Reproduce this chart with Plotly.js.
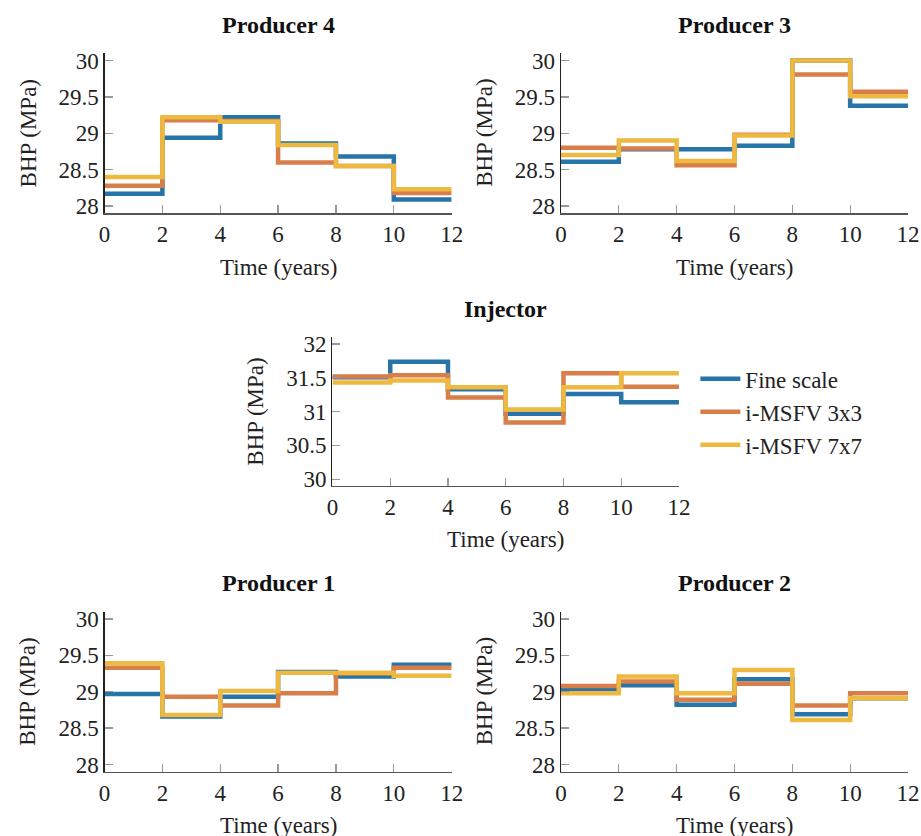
<!DOCTYPE html>
<html>
<head>
<meta charset="utf-8">
<script src="https://cdn.plot.ly/plotly-3.0.1.min.js"></script>
<style>html,body{margin:0;padding:0;background:#fff;}#chart{width:921px;height:836px;}</style>
</head>
<body>
<div id="chart"></div>
<script>
// ---- data ----
var times = [0, 2, 4, 6, 8, 10, 12];
var seriesNames = ["Fine scale", "i-MSFV 3x3", "i-MSFV 7x7"];
var panelTitles = ["Producer 4", "Producer 3", "Injector", "Producer 1", "Producer 2"];
var xTickVals = [0, 2, 4, 6, 8, 10, 12];
var prodYTicks = [28, 28.5, 29, 29.5, 30];
var injYTicks = [30, 30.5, 31, 31.5, 32];

var p4_fine = [28.17, 28.94, 29.22, 28.86, 28.68, 28.09];
var p4_3x3  = [28.28, 29.18, 29.17, 28.60, 28.55, 28.18];
var p4_7x7  = [28.40, 29.22, 29.16, 28.84, 28.55, 28.23];

var p3_fine = [28.61, 28.78, 28.78, 28.83, 30.00, 29.38];
var p3_3x3  = [28.80, 28.79, 28.56, 28.98, 29.81, 29.57];
var p3_7x7  = [28.70, 28.90, 28.62, 28.97, 30.00, 29.51];

var inj_fine = [31.51, 31.74, 31.33, 30.97, 31.26, 31.14];
var inj_3x3  = [31.52, 31.54, 31.21, 30.84, 31.57, 31.37];
var inj_7x7  = [31.43, 31.46, 31.36, 31.03, 31.36, 31.57];

var p1_fine = [28.97, 28.66, 28.93, 29.27, 29.21, 29.37];
var p1_3x3  = [29.33, 28.93, 28.81, 28.98, 29.25, 29.33];
var p1_7x7  = [29.39, 28.68, 29.01, 29.26, 29.26, 29.22];

var p2_fine = [29.03, 29.09, 28.82, 29.17, 28.69, 28.91];
var p2_3x3  = [29.08, 29.14, 28.89, 29.11, 28.81, 28.98];
var p2_7x7  = [28.98, 29.21, 28.98, 29.30, 28.61, 28.91];

// ---- styling ----
var colors = ["#2674a8", "#d87e48", "#eeb940"];
var FONT = "Liberation Serif, Times New Roman, serif";
var FS = 23;

var panels = [
  {data: [p4_fine, p4_3x3, p4_7x7], x: [0.1135, 0.4904], y: [0.7449, 0.9362], yr: [27.9, 30.1], yt: prodYTicks},
  {data: [p3_fine, p3_3x3, p3_7x7], x: [0.6091, 0.9859], y: [0.7449, 0.9362], yr: [27.9, 30.1], yt: prodYTicks},
  {data: [inj_fine, inj_3x3, inj_7x7], x: [0.3610, 0.7372], y: [0.4187, 0.5965], yr: [29.9, 32.1], yt: injYTicks},
  {data: [p1_fine, p1_3x3, p1_7x7], x: [0.1135, 0.4904], y: [0.0769, 0.2683], yr: [27.9, 30.1], yt: prodYTicks},
  {data: [p2_fine, p2_3x3, p2_7x7], x: [0.6091, 0.9859], y: [0.0769, 0.2683], yr: [27.9, 30.1], yt: prodYTicks}
];

var traces = [];
var layout = {
  width: 921, height: 836,
  margin: {l: 0, r: 0, t: 0, b: 0},
  paper_bgcolor: "#fff", plot_bgcolor: "#fff",
  font: {family: FONT, size: FS, color: "#222"},
  showlegend: true,
  legend: {x: 0.755, y: 0.5725, xanchor: "left", yanchor: "top",
           font: {family: FONT, size: 23, color: "#222"}, bgcolor: "rgba(0,0,0,0)",
           tracegroupgap: 0, itemwidth: 40},
  annotations: []
};

panels.forEach(function (p, i) {
  var ax = i === 0 ? "" : String(i + 1);
  p.data.forEach(function (vals, s) {
    traces.push({
      type: "scatter", mode: "lines",
      x: times,
      y: vals.concat([vals[vals.length - 1]]),
      line: {shape: "hv", color: colors[s], width: 4.5},
      name: seriesNames[s],
      showlegend: i === 2,
      xaxis: "x" + ax, yaxis: "y" + ax
    });
  });
  layout["xaxis" + ax] = {
    domain: p.x, anchor: "y" + ax, range: [0, 12],
    tickvals: xTickVals, ticks: "inside", ticklen: 8, tickcolor: "#999", tickwidth: 1.2,
    showline: true, linecolor: "#555", linewidth: 1.3,
    showgrid: false, zeroline: false,
    tickfont: {family: FONT, size: FS, color: "#222"}
  };
  layout["yaxis" + ax] = {
    domain: p.y, anchor: "x" + ax, range: p.yr,
    tickvals: p.yt, ticks: "inside", ticklen: 8, tickcolor: "#999", tickwidth: 1.2,
    showline: true, linecolor: "#222", linewidth: 1.3,
    showgrid: false, zeroline: false,
    tickfont: {family: FONT, size: FS, color: "#222"}
  };
  var cx = (p.x[0] + p.x[1]) / 2;
  // panel title
  layout.annotations.push({
    text: "<b>" + panelTitles[i] + "</b>", xref: "paper", yref: "paper",
    x: cx, y: p.y[1] + 0.034, xanchor: "center", yanchor: "middle", showarrow: false,
    font: {family: FONT, size: 24, color: "#111"}
  });
  // x title
  layout.annotations.push({
    text: "Time (years)", xref: "paper", yref: "paper",
    x: cx, y: p.y[0] - 0.0645, xanchor: "center", yanchor: "middle", showarrow: false,
    font: {family: FONT, size: FS, color: "#222"}
  });
  // y title
  layout.annotations.push({
    text: "BHP (MPa)", xref: "paper", yref: "paper", textangle: -90,
    x: p.x[0] - 0.083, y: (p.y[0] + p.y[1]) / 2, xanchor: "center", yanchor: "middle", showarrow: false,
    font: {family: FONT, size: FS, color: "#222"}
  });
});

Plotly.newPlot("chart", traces, layout, {displayModeBar: false, staticPlot: true});
</script>
</body>
</html>
